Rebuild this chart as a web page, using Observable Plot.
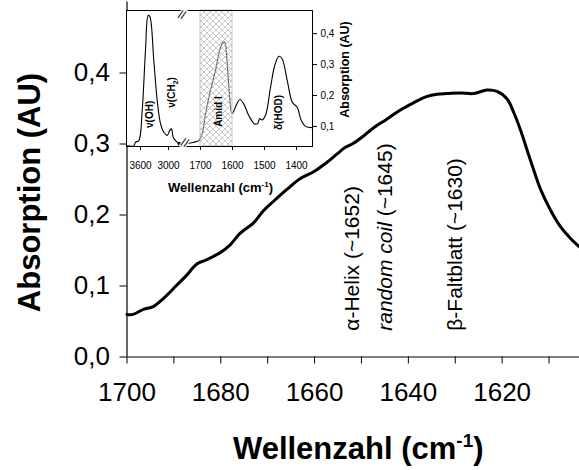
<!DOCTYPE html>
<html>
<head>
<meta charset="utf-8">
<script src="https://cdn.jsdelivr.net/npm/d3@7"></script>
<script src="https://cdn.jsdelivr.net/npm/@observablehq/plot@0.6"></script>
<style>
  body { margin: 0; background: #fff; }
  #chart { position: relative; width: 579px; height: 470px; }
  #chart svg { position: absolute; left: 0; top: 0; }
</style>
</head>
<body>
<div id="chart"></div>
<script>
// Amide I band of the protein spectrum (main panel)
const wavenumber = [1700, 1698.7, 1696.5, 1694.4, 1692.3, 1689.4, 1687.3, 1685.1, 1683.0, 1680.1,
  1678.0, 1675.9, 1673.0, 1670.9, 1668.8, 1665.9, 1663.1, 1660.2, 1657.4, 1655.2,
  1653.5, 1651.7, 1649.6, 1647.4, 1644.6, 1641.7, 1638.9, 1636.0, 1633.9, 1631.7,
  1628.9, 1626.1, 1623.2, 1621.1, 1618.9, 1617.5, 1616.1, 1614.7, 1613.3, 1611.8,
  1609.7, 1607.6, 1605.4, 1603.5];
const absorbance = [0.060, 0.060, 0.067, 0.071, 0.082, 0.101, 0.115, 0.131, 0.137, 0.147,
  0.158, 0.174, 0.189, 0.206, 0.219, 0.236, 0.251, 0.261, 0.274, 0.286,
  0.295, 0.301, 0.311, 0.323, 0.335, 0.348, 0.358, 0.367, 0.370, 0.371,
  0.372, 0.371, 0.376, 0.374, 0.363, 0.344, 0.320, 0.292, 0.264, 0.236,
  0.207, 0.184, 0.167, 0.155];

const xTicks = [1700, 1690, 1680, 1670, 1660, 1650, 1640, 1630, 1620, 1610];
const yTicks = [0, 0.1, 0.2, 0.3, 0.4];

// secondary-structure band positions
const bandWn = [1652, 1645, 1630];
const bandText = ["α-Helix (~1652)", "random coil (~1645)", "β-Faltblatt (~1630)"];
const bandBase = 0.037;

// Inset: full spectrum, high-wavenumber part (OH / CH stretch)
const insetHighWn = [3885, 3744, 3707, 3636, 3564, 3493, 3435, 3401, 3315, 3242,
  3171, 3101, 3028, 2972, 2936, 2899, 2850, 2814, 2764];
const insetHighAbs = [0.037, 0.037, 0.049, 0.054, 0.151, 0.346, 0.459, 0.456, 0.313, 0.184,
  0.109, 0.081, 0.071, 0.087, 0.092, 0.065, 0.054, 0.049, 0.044];

// Inset: fingerprint part (amide I, amide II, HOD bending)
const insetLowWn = [1747, 1721, 1705, 1695, 1684, 1669, 1653, 1640, 1632, 1624,
  1619, 1612, 1606, 1601, 1591, 1577, 1565, 1549, 1531, 1521,
  1515, 1507, 1497, 1481, 1468, 1455, 1445, 1429, 1413, 1398,
  1385, 1372, 1350];
const insetLowAbs = [0.044, 0.049, 0.054, 0.076, 0.141, 0.216, 0.281, 0.346, 0.369, 0.372,
  0.335, 0.238, 0.162, 0.141, 0.162, 0.187, 0.173, 0.135, 0.108, 0.110,
  0.125, 0.121, 0.135, 0.227, 0.297, 0.327, 0.319, 0.249, 0.178, 0.162,
  0.119, 0.100, 0.096];

const insetXTicks = [3600, 3000, 1700, 1600, 1500, 1400];
const insetYTicks = [0.1, 0.2, 0.3, 0.4];
const amideBand = [1700, 1600];
const axisBreak = 1750;

const insetLabelText = ["ν(OH)", "ν(CH2)", "Amid I", "δ(HOD)"];
const insetLabelWn = [3401, 2921, 1643, 1455];
const insetLabelAbs = [0.139, 0.210, 0.148, 0.145];

const font = "'Liberation Sans', Arial, Helvetica, sans-serif";
const comma = d => d.toFixed(1).replace(".", ",");
const plain = d => String(d);

const mainData = wavenumber.map((w, i) => ({w, a: absorbance[i]}));
const bands = bandWn.map((w, i) => ({w, a: bandBase, label: bandText[i]}));

const main = Plot.plot({
  width: 579, height: 470,
  marginLeft: 126.5, marginRight: 0, marginTop: 1.5, marginBottom: 113.5,
  style: {fontFamily: font, background: "transparent", color: "black"},
  x: {domain: [1700, 1603.5]},
  y: {domain: [0, 0.5]},
  marks: [
    Plot.ruleY([0], {strokeWidth: 1.2}),
    Plot.ruleX([1700], {strokeWidth: 1.2}),
    Plot.axisY({ticks: yTicks, tickSize: 7, tickPadding: 10, fontSize: 26, tickFormat: comma, label: null}),
    Plot.axisX({ticks: xTicks, tickSize: 7, tickPadding: 19, fontSize: 26,
      tickFormat: d => d % 20 === 0 ? String(d) : "", label: null}),
    Plot.line(mainData, {x: "w", y: "a", curve: "catmull-rom", strokeWidth: 3, strokeLinejoin: "round"}),
    Plot.text(bands, {x: "w", y: "a", text: "label", rotate: -90, textAnchor: "start",
      lineAnchor: "middle", fontSize: 21}),
    Plot.text(["Absorption (AU)"], {frameAnchor: "left", dx: -97, dy: 13, rotate: -90,
      textAnchor: "middle", fontSize: 31, fontWeight: "bold", lineAnchor: "middle"}),
    Plot.text(["Wellenzahl (cm-1)"], {frameAnchor: "bottom", dx: 5, dy: 92.5,
      textAnchor: "middle", fontSize: 31, fontWeight: "bold", lineAnchor: "middle"})
  ]
});

const insetHigh = insetHighWn.map((w, i) => ({w, a: insetHighAbs[i]}));
const insetLow = insetLowWn.map((w, i) => ({w, a: insetLowAbs[i]}));
const insetLabels = insetLabelText.map((t, i) => ({t, w: insetLabelWn[i], a: insetLabelAbs[i]}));

const inset = Plot.plot({
  width: 579, height: 470,
  marginLeft: 126, marginRight: 267, marginTop: 10, marginBottom: 324,
  style: {fontFamily: font, background: "transparent", color: "black"},
  x: {type: "linear", domain: [3900, 2700, 1750, 1350], range: [126, 182, 184, 312]},
  y: {domain: [0.035, 0.475]},
  marks: [
    Plot.frame({fill: "white"}),
    Plot.line(insetHigh, {x: "w", y: "a", curve: "catmull-rom", strokeWidth: 1.1}),
    Plot.line(insetLow, {x: "w", y: "a", curve: "catmull-rom", strokeWidth: 1.1}),
    Plot.dot(insetHigh.slice(-1), {x: "w", y: "a", r: 2, fill: "black"}),
    Plot.rect([amideBand], {x1: d => d[0], x2: d => d[1], fill: "url(#amid-hatch)",
      stroke: "#c4c4c4", strokeWidth: 1}),
    Plot.frame({stroke: "black", strokeWidth: 1}),
    Plot.axisX({ticks: insetXTicks, tickSize: 4, tickPadding: 11.5, fontSize: 10,
      tickFormat: plain, label: null}),
    Plot.axisY({anchor: "right", ticks: insetYTicks, tickSize: 4, tickPadding: 4, fontSize: 10,
      tickFormat: comma, label: null}),
    Plot.text([axisBreak], {x: d => d, dx: -1, frameAnchor: "top", text: () => "//", fontSize: 12,
      rotate: 20, stroke: "white", strokeWidth: 2.5, fill: "black", paintOrder: "stroke"}),
    Plot.text([axisBreak], {x: d => d, dx: -1, frameAnchor: "bottom", text: () => "//", fontSize: 12,
      rotate: 20, stroke: "white", strokeWidth: 2.5, fill: "black", paintOrder: "stroke"}),
    Plot.text(insetLabels, {x: "w", y: "a", text: "t", rotate: -90, fontSize: 10,
      fontWeight: "bold", lineAnchor: "middle"}),
    Plot.text(["Absorption (AU)"], {frameAnchor: "right", dx: 32, dy: -9, rotate: -90,
      textAnchor: "middle", fontSize: 12.5, fontWeight: "bold", lineAnchor: "middle"}),
    Plot.text(["Wellenzahl (cm-1)"], {frameAnchor: "bottom", dx: 1, dy: 41,
      textAnchor: "middle", fontSize: 13, fontWeight: "bold", lineAnchor: "middle"})
  ]
});

// cross-hatch fill for the amide I window
const defs = d3.select(inset).insert("defs", ":first-child");
const pat = defs.append("pattern").attr("id", "amid-hatch")
  .attr("patternUnits", "userSpaceOnUse").attr("width", 6).attr("height", 6);
pat.append("rect").attr("width", 6).attr("height", 6).attr("fill", "white").attr("fill-opacity", 0.35);
pat.append("path").attr("d", "M0,0L6,6M6,0L0,6M-1,5L1,7M5,-1L7,1M-1,1L1,-1M5,7L7,5")
  .attr("stroke", "#b4b4b4").attr("stroke-width", 0.7).attr("fill", "none");

// mixed-style labels: superscripts, subscripts, italics
function richText(svg, whole, parts) {
  d3.select(svg).selectAll("text")
    .filter(function () { return this.textContent === whole; })
    .each(function () {
      const t = d3.select(this);
      t.text(null);
      for (const p of parts) {
        const s = t.append("tspan").text(p.text);
        if (p.italic) s.attr("font-style", "italic");
        if (p.size) s.attr("font-size", p.size);
        if (p.dy) s.attr("dy", p.dy);
      }
    });
}

richText(main, "Wellenzahl (cm-1)", [
  {text: "Wellenzahl (cm"}, {text: "-1", size: 19, dy: -12}, {text: ")", dy: 12}
]);
richText(main, "random coil (~1645)", [
  {text: "random coil", italic: true}, {text: " (~1645)"}
]);
richText(inset, "Wellenzahl (cm-1)", [
  {text: "Wellenzahl (cm"}, {text: "-1", size: 8, dy: -5}, {text: ")", dy: 5}
]);
richText(inset, "ν(CH2)", [
  {text: "ν(CH"}, {text: "2", size: 7, dy: 3}, {text: ")", dy: -3}
]);

const chart = document.getElementById("chart");
chart.append(main, inset);
</script>
</body>
</html>
